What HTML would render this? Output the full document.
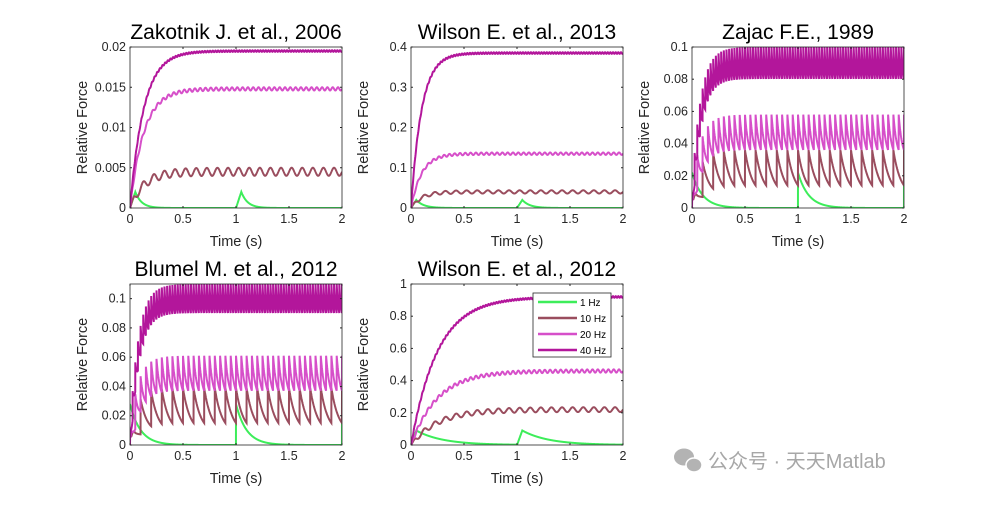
<!DOCTYPE html>
<html><head><meta charset="utf-8">
<style>
body{margin:0;background:#fff;width:1000px;height:500px;overflow:hidden;font-family:"Liberation Sans",Arial,sans-serif}
svg text{font-family:"Liberation Sans",Arial,sans-serif}
</style></head>
<body>
<svg id="fig" width="1000" height="500" xmlns="http://www.w3.org/2000/svg"></svg>
<script>
// Data (per panel)
const titles=["Zakotnik J. et al., 2006","Wilson E. et al., 2013","Zajac F.E., 1989","Blumel M. et al., 2012","Wilson E. et al., 2012"];
const yMaxes=[0.02,0.4,0.1,0.11,1];
const yTickLists=[[0,0.005,0.01,0.015,0.02],[0,0.1,0.2,0.3,0.4],[0,0.02,0.04,0.06,0.08,0.1],[0,0.02,0.04,0.06,0.08,0.1],[0,0.2,0.4,0.6,0.8,1]];
const xTicks=[0,0.5,1,1.5,2];
const freqs=[1,10,20,40];
const seriesNames=["1 Hz","10 Hz","20 Hz","40 Hz"];
// steady-state mean levels [1Hz peak,10,20,40]
const levels=[[0.002,0.0045,0.0148,0.0195],[0.02,0.04,0.135,0.385],[0.022,0.025,0.047,0.09],[0.028,0.027,0.049,0.1],[0.09,0.22,0.46,0.92]];
// ripple amplitudes [1Hz decay tau, 10,20,40]
const ripples=[[0.06,0.0005,0.0002,0.0001],[0.07,0.004,0.003,0.002],[0.1,0.011,0.011,0.01],[0.1,0.012,0.012,0.01],[0.25,0.015,0.01,0.005]];
const riseTaus=[0.13,0.1,0.08,0.08,0.25];
const sharp=[false,false,true,true,false];

const colors=["#3ded5a","#9a4d5e","#d64fc9","#b3169b"];
const boxes=[[130,47],[411,47],[692,47],[130,284],[411,284]];
const W=212,H=161;
const svg=document.getElementById('fig');
const NS="http://www.w3.org/2000/svg";
function el(tag,attrs,parent){const e=document.createElementNS(NS,tag);for(const k in attrs)e.setAttribute(k,attrs[k]);(parent||svg).appendChild(e);return e;}
function fmt(v){return String(+v.toFixed(4));}

titles.forEach((title,p)=>{
  const [x0,y0]=boxes[p];
  const g=el('g',{});
  
  
  const xs=t=>x0+t/2*W;
  const ys=v=>y0+H-Math.min(Math.max(v,0),yMaxes[p])/yMaxes[p]*H;
  el('rect',{x:x0,y:y0,width:W,height:H,fill:'#fff'},g);
  const clip=el('clipPath',{id:'c'+p},g);
  el('rect',{x:x0,y:y0,width:W,height:H},clip);
  freqs.forEach((f,s)=>{
    let pts=[];
    for(let i=0;i<=4000;i++){
      const t=i/2000;let v;
      if(s===0){
        const ph=t%1, peak=levels[p][0], tau=ripples[p][0];
        if(sharp[p]) v=peak*Math.exp(-ph/tau);
        else v= ph<0.05? peak*ph/0.05 : peak*Math.exp(-(ph-0.05)/tau);
      } else {
        const mean=levels[p][s], amp=ripples[p][s], env=1-Math.exp(-t/riseTaus[p]);
        const ph=(t*f)%1;
        let w;
        if(sharp[p]) w=-1+2*(Math.exp(-1.5*ph)-Math.exp(-1.5))/(1-Math.exp(-1.5));
        else w=Math.sin(2*Math.PI*ph);
        v=mean*env+amp*w*Math.min(1,t*f*2);
        if(sharp[p]&&t>0) v=Math.max(v,amp*0.5);
      }
      pts.push(xs(t).toFixed(2)+','+ys(v).toFixed(2));
    }
    const pl=el('polyline',{points:pts.join(' '),fill:'none',stroke:colors[s],'stroke-width':2,'clip-path':'url(#c'+p+')'},g);
    
    
  });
  el('rect',{x:x0,y:y0,width:W,height:H,fill:'none',stroke:'#262626','stroke-width':0.8},g);
  xTicks.forEach(t=>{
    const x=xs(t);
    el('line',{x1:x,y1:y0+H,x2:x,y2:y0+H-2,stroke:'#262626'},g);
    el('line',{x1:x,y1:y0,x2:x,y2:y0+2,stroke:'#262626'},g);
    const tx=el('text',{x:x,y:y0+H+15,'font-size':12.5,fill:'#262626','text-anchor':'middle'},g);
    tx.textContent=fmt(t);
    
    
  });
  yTickLists[p].forEach(v=>{
    const y=ys(v);
    el('line',{x1:x0,y1:y,x2:x0+2,y2:y,stroke:'#262626'},g);
    el('line',{x1:x0+W,y1:y,x2:x0+W-2,y2:y,stroke:'#262626'},g);
    const tx=el('text',{x:x0-4,y:y+4,'font-size':12.5,fill:'#262626','text-anchor':'end'},g);
    tx.textContent=fmt(v);
    
    
  });
  const tt=el('text',{x:x0+W/2,y:y0-8,'font-size':21,fill:'#000','text-anchor':'middle'},g);
  tt.textContent=title;
  
  
  const xl=el('text',{x:x0+W/2,y:y0+H+38,'font-size':14.5,fill:'#262626','text-anchor':'middle'},g);
  xl.textContent='Time (s)';
  
  
  const yl=el('text',{x:0,y:0,'font-size':14.5,fill:'#262626','text-anchor':'middle',transform:'translate('+(x0-43)+','+(y0+H/2)+') rotate(-90)'},g);
  yl.textContent='Relative Force';
  
  
});

const lg=el('g',{});


el('rect',{x:533,y:293,width:78,height:64,fill:'#fff',stroke:'#262626','stroke-width':0.8},lg);
seriesNames.forEach((n,s)=>{
  const y=302+s*16;
  const ln=el('line',{x1:538,y1:y,x2:577,y2:y,stroke:colors[s],'stroke-width':2.5},lg);
  
  
  const tx=el('text',{x:580,y:y+4,'font-size':10,fill:'#000'},lg);
  tx.textContent=n;
  
  
});

const wm=el('g',{opacity:0.75});


el('ellipse',{cx:684,cy:457,rx:10,ry:8.5,fill:'#9a9a9a'},wm);
el('ellipse',{cx:694,cy:465,rx:8,ry:7,fill:'#9a9a9a',stroke:'#fff','stroke-width':1.5},wm);
const wt=el('text',{x:708,y:468,'font-size':20,fill:'#8a8a8a'},wm);
wt.setAttribute('style','font-family:"Liberation Sans","Noto Sans CJK SC",sans-serif');
wt.textContent='公众号 · 天天Matlab';
</script>
</body></html>
